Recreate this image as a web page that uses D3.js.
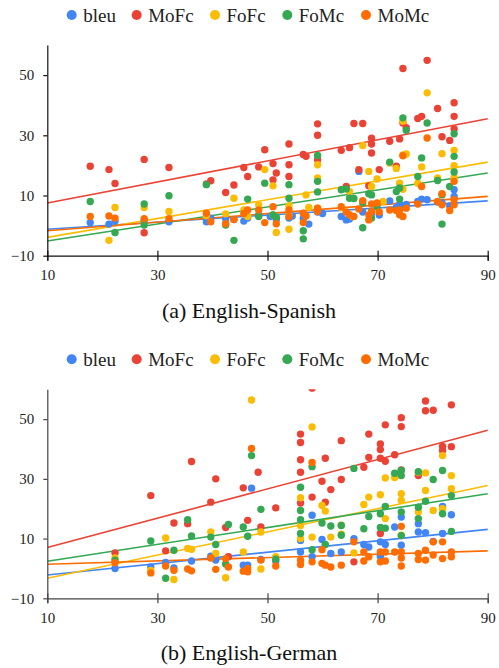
<!DOCTYPE html>
<html>
<head>
<meta charset="utf-8">
<script src="https://cdn.jsdelivr.net/npm/d3@7"></script>
<style>
  body { margin: 0; background: #fff; }
  svg { display: block; }
  svg text { font-family: "Times New Roman", Times, "Liberation Serif", Tinos, serif; }
</style>
</head>
<body>
<svg id="app" width="499" height="668"></svg>
<script>
const seriesNames = ['bleu', 'MoFc', 'FoFc', 'FoMc', 'MoMc'];
const seriesColors = ['#4285f4', '#ea4335', '#fbbc04', '#34a853', '#ff6d01'];
const xTicks = [10, 30, 50, 70, 90];
const yTicks = [-10, 10, 30, 50];
const captions = ['(a) English-Spanish', '(b) English-German'];

// English-Spanish
const esBleu = [[17.8,1.0],[21.2,0.5],[22.3,1.5],[27.6,1.7],[32.1,1.3],[38.9,1.3],[39.7,2.5],[42.4,2.2],[43.9,2.0],[45.7,1.5],[46.4,2.5],[48.4,3.5],[50.5,3.0],[51.6,2.0],[53.9,2.5],[54.5,3.2],[56.5,2.4],[57.5,0.5],[59.1,4.5],[60,4],[63.4,3.0],[64.3,1.9],[64.9,2.2],[66.6,18.0],[67.3,4.5],[68.9,4.1],[70.3,3.5],[72.2,8.2],[73.4,6],[74,7],[74.6,6.5],[75.2,7],[77.3,8],[78,8.8],[79,8.6],[80.9,7.8],[81.7,7.5],[83.1,6.5],[83.9,11.9],[83.9,9.7]];
const esMoFc = [[17.8,19.7],[21.2,18.6],[22.3,14],[27.6,22],[27.6,-2.4],[32.1,19.3],[38.9,13.8],[39.7,14.9],[42.4,11],[43.9,13.5],[45.7,19.3],[46.4,16.3],[48.4,19.5],[49.5,25.2],[51,20.6],[51,15.2],[51.6,17.5],[53.9,27.1],[53.9,20.2],[53.9,16.3],[56.5,23.6],[57,23],[59.1,33.8],[59.1,30],[59.1,21.9],[63.4,25],[64.3,13],[64.9,25.9],[65.7,33.9],[66.6,18.6],[67.3,33.9],[68.4,13.2],[68.9,29],[68.9,27.1],[68.9,24.1],[70.3,18.6],[72.2,28],[73.4,19.7],[74,28.8],[74.6,52.2],[74.6,34.1],[75.2,32.5],[77.3,35.6],[78,36.3],[79,54.9],[80.9,38.9],[81.7,29.5],[83.1,28.3],[83.9,40.8],[83.9,36.3],[83.9,32.1]];
const esFoFc = [[21.2,-4.9],[22.3,6],[27.6,6],[32.1,4.7],[38.9,3.3],[42.4,3.9],[43.9,9.1],[45.7,5.2],[46.4,3],[48.4,6.9],[49.5,18.6],[51,13.2],[51,3.5],[51.6,-2.3],[53.9,6.6],[53.9,3.5],[53.9,-1.2],[57,10.2],[57.5,6],[59.1,20.2],[59.1,15.8],[59.1,5.8],[63.4,6],[64.9,11.3],[65.5,3],[67.3,26.6],[68.4,18],[68.9,13],[69.9,15.5],[71,8],[72.2,20.8],[73.4,19],[74,14.1],[74.6,34.7],[74.6,23.5],[74.6,12.1],[75.2,23.8],[77.3,14.1],[78,19.5],[79,44.1],[80.9,15.8],[81.7,23.9],[83.9,25],[83.9,19.9],[83.9,16]];
const esFoMc = [[17.8,8],[22.3,-2.3],[27.6,7.2],[27.6,0.2],[32.1,9.9],[38.9,13.6],[42.4,0.2],[43.9,-4.9],[46.4,8.8],[48.4,3],[49.5,14.1],[51,3.5],[51.6,2.8],[53.9,13.6],[53.9,9.1],[56.5,-1.7],[56.5,-4.4],[59.1,23.3],[59.1,14.7],[59.1,11.2],[63.4,11.9],[64.3,12.2],[64.9,9.1],[65.7,9],[67.3,7.5],[67.3,-0.7],[68.4,10.6],[68.9,10.2],[68.9,2.5],[69.9,6.3],[72.2,21.1],[73.4,11.3],[74,12.5],[74,8.8],[74.6,35.8],[75.2,31.7],[77.3,16.3],[78,22.5],[79,34.1],[80.9,15],[81.7,10.2],[81.7,0.5],[83.1,13],[83.9,30.5],[83.9,23],[83.9,17.8]];
const esMoMc = [[17.8,3],[21.2,3.2],[22.3,2.5],[27.6,2.3],[32.1,2.3],[38.9,4.1],[39.7,1.3],[42.4,0.6],[43.9,2],[45.7,4],[46.4,5.2],[48.4,5.2],[49.5,1],[51,6.3],[51.6,0.6],[53.9,5.2],[53.9,3],[56.5,4.1],[56.5,1],[57,3.2],[59.1,5.8],[59.1,4.7],[63.4,6.3],[64.3,4.5],[64.9,3.6],[65.7,3],[66.6,5.5],[67.3,8.3],[68.4,1.9],[68.4,3.5],[68.9,7.2],[68.9,4.7],[69.9,7.5],[70.3,4.5],[72.2,5.2],[73.4,5],[74,5.2],[74,3.6],[74.6,23.2],[74.6,3],[75.2,5.8],[77.3,7.2],[78,13],[79,29.1],[80.9,8],[81.7,10.6],[81.7,6.9],[83.1,5],[83.9,14.7],[83.9,8.6],[83.9,6.9]];
// trend line values at x = 10 and x = 90
const esTrend = [[-1.2, 8.2], [7.5, 35.5], [-3.9, 21.1], [-5.1, 17.5], [-1.7, 9.7]];

// English-German
const deBleu = [[22.3,0],[28.8,0.5],[31.5,2],[33,0.2],[36.2,2.5],[39.7,4.1],[40.6,2.8],[45.6,1.1],[46.4,1.1],[47.1,26.9],[48.8,3],[51.5,2.5],[56,9.4],[56,5.5],[58.1,17.8],[58.1,3.9],[59.9,9.7],[61.5,5],[63.4,5.5],[65.7,10],[67.5,8],[68.4,7.2],[70.5,8.9],[70.5,4],[71.4,8],[73.1,13.9],[74.3,17.2],[74.3,7.8],[77.4,15],[77.4,12.2],[78.7,12],[80.1,9],[81.8,20.8],[81.8,11.7],[83.4,18]];
const deMoFc = [[22.3,5.2],[28.8,24.4],[31.5,5.9],[33,15.2],[35.5,15],[36.2,35.8],[39.7,22.2],[40.6,30],[42.4,13.7],[42.9,3.9],[45.6,27],[46.4,16.1],[48.3,32.2],[48.8,13.9],[51.5,20.3],[56,45],[56,42.2],[56,36.4],[56,32.2],[56,21.9],[58.1,60.4],[58.1,23.9],[59.9,29.2],[60.5,36.9],[60.5,22.2],[61.5,26.4],[63.4,42.8],[63.4,29.8],[65.7,2.2],[67.5,33.9],[68.4,45],[68.4,37.2],[70.5,41.7],[70.5,39.8],[70.5,36.9],[70.5,11.7],[71.4,48.1],[71.4,35.9],[73.1,38.1],[74.3,50.5],[74.3,47.5],[74.3,33],[77.4,31.1],[78.7,56.1],[78.7,52.8],[80.1,53],[81.8,40.9],[81.8,39.5],[83.4,54.8],[83.4,40.8]];
const deFoFc = [[22.3,3.5],[28.8,-0.7],[31.5,10.2],[33,-3.7],[35.5,6.7],[36.2,6.4],[39.7,12.2],[40.6,5],[42.4,-3.1],[45.6,5.5],[47.1,56.4],[48.8,12.2],[48.8,-0.2],[51.5,3.9],[56,23.7],[56,14.4],[56,10],[58.1,47.4],[58.1,10.5],[59.9,21.1],[60.5,19.2],[61.5,10.5],[63.4,14.5],[63.4,11.5],[65.7,5.2],[67.5,21.4],[68.4,23.9],[70.5,24.7],[71.4,30.3],[71.4,16.7],[73.1,30.5],[74.3,25],[74.3,22.8],[74.3,11.1],[77.4,32.2],[77.4,18.9],[78.7,32],[78.7,26.1],[80.1,19.4],[81.8,37.8],[81.8,20],[83.4,31.1],[83.4,26.7]];
const deFoMc = [[22.3,2.8],[28.8,9.2],[31.5,-3.3],[33,6.1],[35.5,16.3],[36.2,10.9],[39.7,10.5],[40.6,8],[42.4,1.5],[42.9,14.7],[45.6,13.9],[46.4,10.8],[47.1,37.8],[48.8,19.8],[51.5,3.1],[56,27.2],[56,19.4],[56,16.3],[56,11.7],[58.1,34.1],[58.1,6.3],[59.9,15.2],[60.5,8],[61.5,14.2],[63.4,14.4],[63.4,11.1],[65.7,33.5],[67.5,13.3],[68.4,17.4],[70.5,18.3],[70.5,13.7],[71.4,20.8],[71.4,13.5],[73.1,31.9],[74.3,32.8],[74.3,31.1],[74.3,18.9],[74.3,11],[77.4,32.4],[77.4,20.5],[77.4,16.7],[78.7,22.5],[80.1,29.8],[81.8,32.8],[81.8,18.3],[83.4,24.4],[83.4,12.4]];
const deMoMc = [[22.3,1.9],[28.8,-1.5],[31.5,0.8],[33,-0.6],[35.5,-0.2],[36.2,-0.8],[39.7,3.5],[40.6,-0.3],[42.4,3.3],[42.9,0.5],[45.6,-0.9],[46.4,0],[46.4,-1.1],[47.1,40.2],[48.8,2.8],[51.5,0.8],[56,2.8],[56,1.3],[58.1,35.5],[58.1,2.2],[59.9,6.3],[59.9,1.7],[60.5,1.1],[61.5,0.5],[63.4,1.1],[65.7,8.9],[67.5,5.5],[67.5,2.5],[68.4,3.9],[70.5,5.5],[70.5,2.2],[71.4,5.5],[71.4,2.5],[73.1,5.5],[74.3,14.1],[74.3,5.5],[74.3,3.5],[74.3,0.8],[77.4,5],[77.4,3],[78.7,6.1],[78.7,2.8],[80.1,8.9],[80.1,4.5],[81.8,8.9],[81.8,3.3],[83.4,5.5],[83.4,3.9]];
const deTrend = [[-2.2, 13.1], [7, 46.3], [-3.3, 27.8], [2.4, 25], [1.4, 5.9]];

const panels = [
  {series: [esBleu, esMoFc, esFoFc, esFoMc, esMoMc], trend: esTrend, top: 45, bottom: 255.7, axisColor: '#111', caption: captions[0]},
  {series: [deBleu, deMoFc, deFoFc, deFoMc, deMoMc], trend: deTrend, top: 389.3, bottom: 598.3, axisColor: '#444', caption: captions[1]},
];

let svg = d3.select('#app')

const x = d3.scaleLinear().domain([10, 90]).range([47.3, 487.7])
const legendX = [71.7, 136.7, 215, 287.3, 366]

panels.forEach((p, pi) => {
  const y = d3.scaleLinear().domain([-10, 60]).range([p.bottom, p.top])
  const g = svg.append('g')

  // legend
  const legY = p.top - 30
  const leg = g.append('g').selectAll('g')
    .data(seriesNames)
    .enter()
    .append('g')
    .attr('transform', (d, i) => `translate(${legendX[i]},${legY})`)
  leg.append('circle')
    .attr('r', 5)
    .attr('fill', (d, i) => seriesColors[i])
  leg.append('text')
    .attr('x', 11.5)
    .attr('y', 6.5)
    .attr('font-size', 19)
    .attr('fill', '#222')
    .text(d => d)

  // clip for the plot area
  g.append('clipPath').attr('id', 'clip' + pi)
    .append('rect')
    .attr('x', x(10)).attr('y', p.top)
    .attr('width', x(90) - x(10) + 6).attr('height', p.bottom - p.top + 6)

  const plot = g.append('g').attr('clip-path', `url(#clip${pi})`)

  // trend lines
  plot.selectAll('line.trend')
    .data(p.trend)
    .enter()
    .append('line')
    .attr('class', 'trend')
    .attr('x1', x(10)).attr('x2', x(90))
    .attr('y1', d => y(d[0])).attr('y2', d => y(d[1]))
    .attr('stroke', (d, i) => seriesColors[i])
    .attr('stroke-width', 1.6)

  // points, series by series
  p.series.forEach((pts, si) => {
    plot.append('g').selectAll('circle')
      .data(pts)
      .enter()
      .append('circle')
      .attr('cx', d => x(d[0]))
      .attr('cy', d => y(d[1]))
      .attr('r', 3.7)
      .attr('fill', seriesColors[si])
  })

  // axes
  const xAxis = g.append('g')
    .attr('transform', `translate(0,${p.bottom})`)
    .call(d3.axisBottom(x).tickValues(xTicks).tickSize(5).tickPadding(9))
  xAxis.attr('font-family', null)
  xAxis.select('.domain').attr('stroke', p.axisColor).attr('stroke-width', 1.2)
  xAxis.selectAll('.tick line').attr('y1', -5).attr('stroke', p.axisColor).attr('stroke-width', 1.2)
  xAxis.selectAll('.tick text').attr('font-size', 15).attr('fill', '#222')

  const yAxis = g.append('g')
    .attr('transform', `translate(${x(10)},0)`)
    .call(d3.axisLeft(y).tickValues(yTicks).tickSize(4).tickPadding(9).tickSizeOuter(0))
  yAxis.attr('font-family', null)
  yAxis.select('.domain').attr('stroke', p.axisColor).attr('stroke-width', 1.2)
  yAxis.selectAll('.tick line').attr('stroke', p.axisColor).attr('stroke-width', 1.2)
  yAxis.selectAll('.tick text').attr('font-size', 15).attr('fill', '#222')

  // caption
  g.append('text')
    .attr('x', 249)
    .attr('y', p.bottom + 62)
    .attr('text-anchor', 'middle')
    .attr('font-size', 22)
    .attr('fill', '#111')
    .text(p.caption)
})
</script>
</body>
</html>
